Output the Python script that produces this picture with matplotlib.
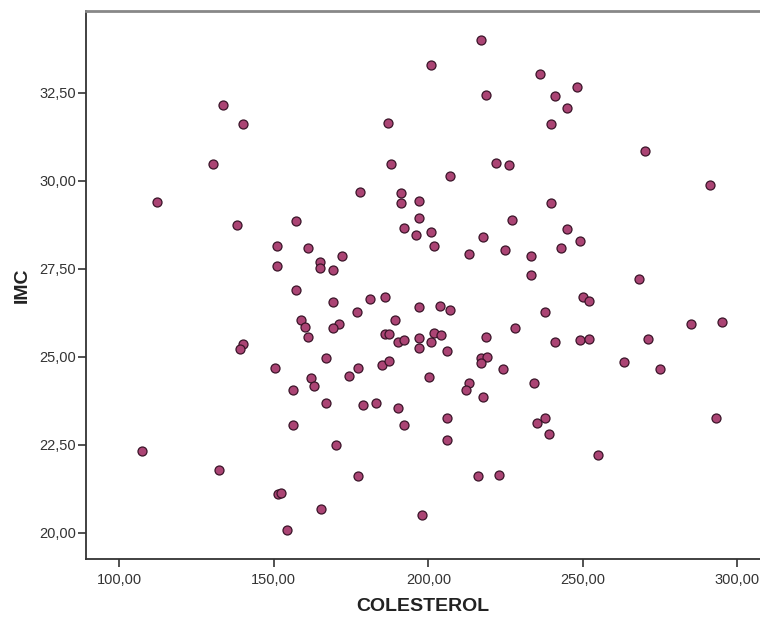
import numpy as np
import matplotlib
matplotlib.use('Agg')
from matplotlib import pyplot as plt
from matplotlib.ticker import FuncFormatter

# Datos: colesterol e IMC
colesterol = [133.5, 140.1, 130.2, 112.3, 138.2, 187.1, 188.0, 178.0, 191.1, 191.1,
              197.0, 197.0, 192.2, 196.0, 157.1, 151.1, 161.0, 172.1, 165.0, 165.0,
              169.1, 151.1, 157.1, 217.1, 200.9, 236.1, 248.1, 240.9, 218.8, 245.0,
              239.8, 221.8, 226.0, 206.9, 239.8, 227.1, 200.9, 201.9, 245.0, 249.0,
              217.8, 213.1, 224.9, 242.8, 233.2, 233.2, 270.1, 291.2, 268.1, 139.9,
              139.0, 107.2, 132.3, 169.1, 177.0, 181.0, 186.1, 197.0, 189.1, 158.9,
              160.0, 161.0, 171.2, 169.1, 185.9, 187.2, 190.1, 192.2, 197.0, 197.0,
              167.0, 150.3, 177.2, 174.3, 185.0, 187.2, 162.0, 163.1, 156.2, 200.1,
              167.0, 178.9, 183.1, 190.2, 192.2, 156.2, 170.1, 177.2, 151.4, 152.4,
              165.2, 154.3, 197.9, 203.9, 207.0, 237.8, 250.1, 252.1, 201.9, 204.0,
              200.9, 218.8, 228.0, 240.9, 249.0, 252.1, 206.1, 217.0, 218.9, 217.0,
              224.1, 213.2, 212.1, 234.1, 217.8, 206.1, 237.9, 235.0, 239.0, 206.1,
              216.0, 223.0, 255.0, 285.0, 295.0, 271.1, 263.4, 275.0, 293.0]
imc = [32.16, 31.60, 30.49, 29.39, 28.73, 31.65, 30.48, 29.67, 29.66, 29.37,
       29.42, 28.93, 28.66, 28.45, 28.86, 28.14, 28.10, 27.86, 27.68, 27.52,
       27.45, 27.59, 26.89, 34.01, 33.28, 33.03, 32.67, 32.41, 32.45, 32.07,
       31.60, 30.50, 30.45, 30.13, 29.37, 28.89, 28.53, 28.14, 28.64, 28.30,
       28.40, 27.93, 28.03, 28.10, 27.86, 27.33, 30.84, 29.89, 27.20, 25.36,
       25.23, 22.33, 21.77, 26.56, 26.26, 26.65, 26.69, 26.41, 26.04, 26.05,
       25.84, 25.55, 25.94, 25.81, 25.65, 25.64, 25.41, 25.48, 25.53, 25.25,
       24.97, 24.68, 24.68, 24.46, 24.77, 24.89, 24.38, 24.16, 24.05, 24.41,
       23.68, 23.62, 23.69, 23.54, 23.05, 23.07, 22.48, 21.62, 21.10, 21.12,
       20.68, 20.08, 20.51, 26.45, 26.32, 26.28, 26.69, 26.57, 25.66, 25.62,
       25.42, 25.55, 25.82, 25.41, 25.47, 25.51, 25.17, 24.97, 25.00, 24.83,
       24.66, 24.25, 24.05, 24.25, 23.84, 23.25, 23.25, 23.11, 22.80, 22.63,
       21.62, 21.64, 22.21, 25.94, 25.99, 25.51, 24.84, 24.66, 23.25]

x_ticks = [100, 150, 200, 250, 300]
y_ticks = [20, 22.5, 25, 27.5, 30, 32.5]

plt.rcParams['font.family'] = ['Liberation Sans', 'DejaVu Sans']

fig = plt.figure(figsize=(7.6, 6.18), dpi=100)
ax = fig.add_axes([0.113, 0.0955, 0.887, 0.887])

ax.scatter(colesterol, imc, s=42, c='#ab4474', edgecolors='#3a1428', linewidths=0.9, zorder=3)

ax.set_xlim(89.2, 307.3)
ax.set_ylim(19.25, 34.83)
ax.set_xticks(x_ticks)
ax.set_yticks(y_ticks)

coma = FuncFormatter(lambda v, p: f'{v:.2f}'.replace('.', ','))
ax.xaxis.set_major_formatter(coma)
ax.yaxis.set_major_formatter(coma)

ax.tick_params(axis='both', direction='out', length=6, width=1.2, color='#333333',
               labelsize=10.5, labelcolor='#333333')
ax.tick_params(axis='y', pad=1)
ax.tick_params(axis='x', pad=4)

ax.spines['right'].set_visible(False)
ax.spines['top'].set_color('#888888')
ax.spines['top'].set_linewidth(2)
ax.spines['left'].set_color('#333333')
ax.spines['left'].set_linewidth(1.3)
ax.spines['bottom'].set_color('#333333')
ax.spines['bottom'].set_linewidth(1.3)

ax.set_xlabel('COLESTEROL', fontsize=14, fontweight='bold', color='#222222', labelpad=8)
ax.set_ylabel('IMC', fontsize=14, fontweight='bold', color='#222222', labelpad=6)

plt.savefig('out.png', dpi=100)
